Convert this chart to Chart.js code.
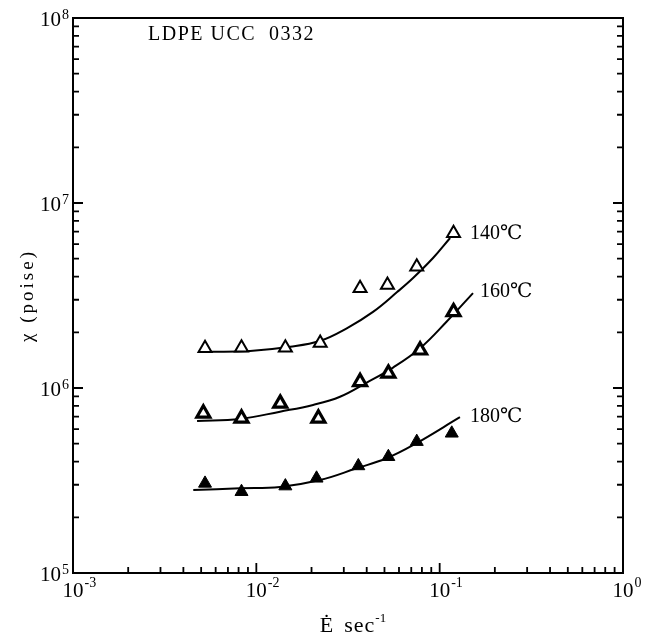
<!DOCTYPE html>
<html>
<head>
<meta charset="utf-8">
<script src="https://cdn.jsdelivr.net/npm/chart.js@4.4.1/dist/chart.umd.min.js"></script>
<style>
  body { margin: 0; background: #fff; }
  canvas { display: block; }
</style>
</head>
<body>
<canvas id="chart" width="654" height="639"></canvas>
<script>
// valores (E punto en 1/s, viscosidad en poise)
const rate140 = [0.00525, 0.0083, 0.0144, 0.0223, 0.0368, 0.0519, 0.075, 0.119];
const visc140 = [1.64e6, 1.65e6, 1.65e6, 1.75e6, 3.46e6, 3.60e6, 4.52e6, 6.86e6];

const rate160 = [0.00514, 0.0083, 0.0135, 0.0218, 0.0368, 0.0525, 0.0782, 0.119];
const visc160 = [7.30e5, 6.86e5, 8.26e5, 6.86e5, 1.08e6, 1.20e6, 1.60e6, 2.58e6];

const rate180 = [0.00525, 0.0083, 0.0144, 0.0213, 0.036, 0.0525, 0.075, 0.1164];
const visc180 = [3.05e5, 2.75e5, 2.95e5, 3.25e5, 3.79e5, 4.25e5, 5.13e5, 5.69e5];

const fitRate140 = [0.0055, 0.00924, 0.0153, 0.0223, 0.0313, 0.0433, 0.0586, 0.0716, 0.092, 0.114];
const fitVisc140 = [1.57e6, 1.585e6, 1.67e6, 1.80e6, 2.11e6, 2.58e6, 3.3e6, 3.93e6, 5.04e6, 6.47e6];

const fitRate160 = [0.00475, 0.00815, 0.01346, 0.0204, 0.0286, 0.040, 0.0557, 0.0782, 0.109, 0.152];
const fitVisc160 = [6.64e5, 6.80e5, 7.45e5, 8.1e5, 8.97e5, 1.07e6, 1.29e6, 1.64e6, 2.28e6, 3.26e6];

const fitRate180 = [0.00453, 0.00815, 0.01346, 0.0223, 0.0353, 0.0514, 0.0719, 0.129];
const fitVisc180 = [2.81e5, 2.87e5, 2.92e5, 3.18e5, 3.68e5, 4.17e5, 4.92e5, 6.95e5];

const xTickExp = [-3, -2, -1, 0];
const yTickExp = [5, 6, 7, 8];
const curveLabels = ["140\u2103", "160\u2103", "180\u2103"];
const sampleName = "LDPE UCC  0332";

const serif = '"Liberation Serif", "DejaVu Serif", serif';

function toPoints(xs, ys) {
  return xs.map((x, i) => ({ x: x, y: ys[i] }));
}

// desplazamiento de las etiquetas de temperatura respecto al final de cada curva
const labelOffsets = [{ dx: 20, dy: -4 }, { dx: 7, dy: -1 }, { dx: 10, dy: 0 }];

const framePlugin = {
  id: 'frame',
  afterDraw(chart) {
    const ctx = chart.ctx;
    const a = chart.chartArea;
    const sx = chart.scales.x;
    const sy = chart.scales.y;
    ctx.save();
    ctx.strokeStyle = '#000';
    ctx.fillStyle = '#000';

    // marco
    ctx.lineWidth = 2;
    ctx.strokeRect(a.left, a.top, a.right - a.left, a.bottom - a.top);

    // marcas hacia dentro
    ctx.lineWidth = 1.8;
    ctx.beginPath();
    for (let i = 0; i < xTickExp.length; i++) {
      const maxM = i === xTickExp.length - 1 ? 1 : 9;
      for (let m = 1; m <= maxM; m++) {
        const px = sx.getPixelForValue(m * Math.pow(10, xTickExp[i]));
        const len = m === 1 ? 10 : 6;
        ctx.moveTo(px, a.bottom);
        ctx.lineTo(px, a.bottom - len);
      }
    }
    for (let i = 0; i < yTickExp.length; i++) {
      const maxM = i === yTickExp.length - 1 ? 1 : 9;
      for (let m = 1; m <= maxM; m++) {
        const py = sy.getPixelForValue(m * Math.pow(10, yTickExp[i]));
        const len = m === 1 ? 10 : 6;
        ctx.moveTo(a.left, py);
        ctx.lineTo(a.left + len, py);
        ctx.moveTo(a.right, py);
        ctx.lineTo(a.right - len, py);
      }
    }
    ctx.stroke();

    // etiquetas del eje x: 10 con exponente
    ctx.textBaseline = 'alphabetic';
    xTickExp.forEach(e => {
      const px = sx.getPixelForValue(Math.pow(10, e));
      ctx.font = '21px ' + serif;
      const w = ctx.measureText('10').width;
      ctx.textAlign = 'center';
      ctx.fillText('10', px, a.bottom + 24);
      ctx.font = '14px ' + serif;
      ctx.textAlign = 'left';
      ctx.fillText(String(e), px + w / 2 + 1, a.bottom + 14);
    });

    // etiquetas del eje y
    yTickExp.forEach(e => {
      const py = sy.getPixelForValue(Math.pow(10, e));
      ctx.font = '14px ' + serif;
      ctx.textAlign = 'right';
      const w2 = ctx.measureText(String(e)).width;
      ctx.fillText(String(e), a.left - 4, py + 1);
      ctx.font = '21px ' + serif;
      ctx.fillText('10', a.left - 5 - w2, py + 8);
    });

    // titulo eje y
    ctx.save();
    ctx.translate(28, (a.top + a.bottom) / 2);
    ctx.rotate(-Math.PI / 2);
    ctx.font = '19px ' + serif;
    ctx.letterSpacing = '3px';
    ctx.textAlign = 'center';
    ctx.textBaseline = 'middle';
    ctx.fillText('\u03c7 (poise)', 0, 0);
    ctx.restore();

    // titulo eje x: E punto sec^-1
    ctx.font = '22px ' + serif;
    ctx.letterSpacing = '1px';
    const wE = ctx.measureText('\u0116').width;
    const wSec = ctx.measureText('sec').width;
    ctx.font = '13px ' + serif;
    ctx.letterSpacing = '0px';
    const wSup = ctx.measureText('-1').width;
    const gap = 10;
    const total = wE + gap + wSec + wSup;
    let tx = (a.left + a.right) / 2 + 5 - total / 2;
    ctx.textAlign = 'left';
    ctx.font = '22px ' + serif;
    ctx.letterSpacing = '1px';
    ctx.fillText('\u0116', tx, 632);
    tx += wE + gap;
    ctx.fillText('sec', tx, 632);
    tx += wSec;
    ctx.font = '13px ' + serif;
    ctx.letterSpacing = '0px';
    ctx.fillText('-1', tx, 622);

    // nombre de la muestra
    ctx.font = '20px ' + serif;
    ctx.letterSpacing = '1.5px';
    ctx.fillText(sampleName, a.left + 75, a.top + 22);
    ctx.letterSpacing = '0px';

    // etiquetas de temperatura
    ctx.font = '20px ' + serif;
    ctx.textBaseline = 'middle';
    [3, 4, 5].forEach((di, i) => {
      const meta = chart.getDatasetMeta(di);
      const last = meta.data[meta.data.length - 1];
      ctx.fillText(curveLabels[i], last.x + labelOffsets[i].dx, last.y + labelOffsets[i].dy);
    });

    ctx.restore();
  }
};

const ctx = document.getElementById('chart').getContext('2d');

new Chart(ctx, {
  type: 'scatter',
  data: {
    datasets: [
      {
        label: '140',
        data: toPoints(rate140, visc140),
        pointStyle: 'triangle',
        pointRadius: 7.5,
        backgroundColor: '#fff',
        borderColor: '#000',
        borderWidth: 2,
        order: 0
      },
      {
        label: '160',
        data: toPoints(rate160, visc160),
        pointStyle: 'triangle',
        pointRadius: 7.5,
        backgroundColor: '#fff',
        borderColor: '#000',
        borderWidth: 3.2,
        order: 0
      },
      {
        label: '180',
        data: toPoints(rate180, visc180),
        pointStyle: 'triangle',
        pointRadius: 7.5,
        backgroundColor: '#000',
        borderColor: '#000',
        borderWidth: 1,
        order: 0
      },
      {
        label: 'ajuste 140',
        data: toPoints(fitRate140, fitVisc140),
        showLine: true,
        pointRadius: 0,
        borderColor: '#000',
        borderWidth: 2,
        tension: 0.4,
        order: 1
      },
      {
        label: 'ajuste 160',
        data: toPoints(fitRate160, fitVisc160),
        showLine: true,
        pointRadius: 0,
        borderColor: '#000',
        borderWidth: 2,
        tension: 0.4,
        order: 1
      },
      {
        label: 'ajuste 180',
        data: toPoints(fitRate180, fitVisc180),
        showLine: true,
        pointRadius: 0,
        borderColor: '#000',
        borderWidth: 2,
        tension: 0.4,
        order: 1
      }
    ]
  },
  options: {
    responsive: false,
    animation: false,
    devicePixelRatio: 1,
    layout: {
      padding: { left: 73, right: 31, top: 18, bottom: 66 }
    },
    scales: {
      x: { type: 'logarithmic', min: 1e-3, max: 1, display: false },
      y: { type: 'logarithmic', min: 1e5, max: 1e8, display: false }
    },
    plugins: {
      legend: { display: false },
      tooltip: { enabled: false }
    }
  },
  plugins: [framePlugin]
});
</script>
</body>
</html>
